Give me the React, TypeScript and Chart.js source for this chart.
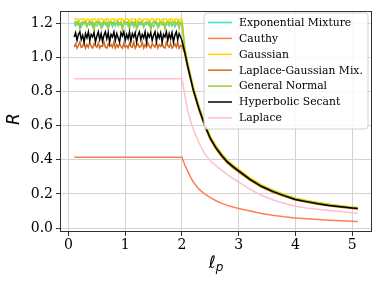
import React, { useEffect, useRef } from 'react';
import { Chart, registerables } from 'chart.js';

Chart.register(...registerables);

// x grid for the noisy series (flat part 0.100..1.975, then the decay part)
const xNoisy = [
  0.100, 0.125, 0.150, 0.175, 0.200, 0.225, 0.250, 0.275, 0.300, 0.325, 0.350, 0.375, 0.400, 0.425, 0.450, 0.475, 0.500, 0.525, 0.550,
  0.575, 0.600, 0.625, 0.650, 0.675, 0.700, 0.725, 0.750, 0.775, 0.800, 0.825, 0.850, 0.875, 0.900, 0.925, 0.950, 0.975, 1.000, 1.025,
  1.050, 1.075, 1.100, 1.125, 1.150, 1.175, 1.200, 1.225, 1.250, 1.275, 1.300, 1.325, 1.350, 1.375, 1.400, 1.425, 1.450, 1.475, 1.500,
  1.525, 1.550, 1.575, 1.600, 1.625, 1.650, 1.675, 1.700, 1.725, 1.750, 1.775, 1.800, 1.825, 1.850, 1.875, 1.900, 1.925, 1.950, 1.975,
  2.00, 2.05, 2.10, 2.15, 2.20, 2.30, 2.40, 2.50, 2.60, 2.70, 2.80, 2.90, 3.00, 3.20, 3.40, 3.60, 3.80, 4.00,
  4.20, 4.40, 4.60, 4.80, 5.00, 5.10,
];
// x grid for the smooth series
const xSmooth = [
  0.10, 2.00, 2.05, 2.10, 2.15, 2.20, 2.30, 2.40, 2.50, 2.60, 2.70, 2.80, 2.90, 3.00, 3.20, 3.40, 3.60, 3.80, 4.00,
  4.20, 4.40, 4.60, 4.80, 5.00, 5.10,
];

const expMixture = [
  1.20, 1.185, 1.205, 1.19, 1.20, 1.18, 1.20, 1.195, 1.205, 1.185, 1.20, 1.19, 1.205, 1.18, 1.20, 1.195, 1.185, 1.205, 1.19,
  1.20, 1.18, 1.205, 1.195, 1.185, 1.20, 1.19, 1.205, 1.18, 1.20, 1.195, 1.205, 1.185, 1.20, 1.19, 1.18, 1.205, 1.195, 1.20,
  1.185, 1.205, 1.19, 1.20, 1.18, 1.205, 1.195, 1.185, 1.20, 1.19, 1.205, 1.18, 1.20, 1.195, 1.205, 1.185, 1.20, 1.19, 1.18,
  1.205, 1.195, 1.20, 1.185, 1.205, 1.19, 1.20, 1.18, 1.205, 1.195, 1.185, 1.20, 1.19, 1.205, 1.18, 1.20, 1.195, 1.205, 1.20,
  1.20, 1.045, 0.96, 0.89, 0.82, 0.707, 0.612, 0.532, 0.477, 0.432, 0.395, 0.366, 0.341, 0.291, 0.251, 0.221, 0.196, 0.173,
  0.160, 0.148, 0.138, 0.130, 0.122, 0.119,
];
const cauthy = [
  0.415, 0.415, 0.37, 0.335, 0.30, 0.27, 0.228, 0.20, 0.178, 0.16, 0.145, 0.133, 0.123, 0.115, 0.10, 0.086, 0.075, 0.066,
  0.059, 0.054, 0.05, 0.046, 0.043, 0.04, 0.038,
];
const gaussian = [
  1.225, 1.225, 1.225, 1.205, 1.225, 1.225, 1.225, 1.225, 1.195, 1.225, 1.225, 1.21, 1.225, 1.225, 1.225, 1.225, 1.20, 1.225, 1.225,
  1.225, 1.225, 1.21, 1.225, 1.225, 1.225, 1.195, 1.225, 1.225, 1.225, 1.225, 1.205, 1.225, 1.225, 1.225, 1.225, 1.20, 1.225, 1.225,
  1.225, 1.21, 1.225, 1.225, 1.225, 1.225, 1.195, 1.225, 1.225, 1.225, 1.205, 1.225, 1.225, 1.225, 1.225, 1.20, 1.225, 1.225, 1.225,
  1.21, 1.225, 1.225, 1.225, 1.195, 1.225, 1.225, 1.225, 1.225, 1.205, 1.225, 1.225, 1.225, 1.20, 1.225, 1.225, 1.225, 1.21, 1.225,
  1.225, 1.06, 0.975, 0.90, 0.83, 0.715, 0.62, 0.54, 0.483, 0.437, 0.399, 0.37, 0.345, 0.295, 0.255, 0.224, 0.198, 0.176,
  0.162, 0.150, 0.140, 0.131, 0.124, 0.121,
];
const laplaceGaussMix = [
  1.06, 1.08, 1.055, 1.07, 1.09, 1.06, 1.065, 1.085, 1.055, 1.075, 1.06, 1.09, 1.065, 1.055, 1.08, 1.07, 1.06, 1.085, 1.055,
  1.07, 1.065, 1.09, 1.06, 1.055, 1.08, 1.065, 1.075, 1.06, 1.09, 1.055, 1.075, 1.06, 1.08, 1.065, 1.055, 1.085, 1.06, 1.07,
  1.055, 1.085, 1.065, 1.06, 1.09, 1.055, 1.07, 1.08, 1.06, 1.065, 1.09, 1.055, 1.075, 1.06, 1.085, 1.065, 1.055, 1.08, 1.07,
  1.06, 1.09, 1.055, 1.075, 1.065, 1.08, 1.06, 1.055, 1.09, 1.07, 1.06, 1.085, 1.055, 1.065, 1.08, 1.06, 1.09, 1.055, 1.07,
  1.07, 1.02, 0.94, 0.87, 0.80, 0.69, 0.596, 0.518, 0.463, 0.418, 0.381, 0.353, 0.328, 0.279, 0.24, 0.21, 0.186, 0.164,
  0.151, 0.139, 0.13, 0.122, 0.115, 0.112,
];
const generalNormal = [
  1.205, 1.21, 1.195, 1.21, 1.165, 1.205, 1.21, 1.20, 1.21, 1.18, 1.205, 1.21, 1.195, 1.21, 1.16, 1.205, 1.21, 1.20, 1.21,
  1.175, 1.205, 1.21, 1.195, 1.21, 1.165, 1.205, 1.21, 1.20, 1.21, 1.185, 1.205, 1.21, 1.195, 1.21, 1.16, 1.205, 1.21, 1.20,
  1.21, 1.17, 1.205, 1.21, 1.195, 1.21, 1.165, 1.205, 1.21, 1.20, 1.21, 1.18, 1.205, 1.21, 1.195, 1.21, 1.16, 1.205, 1.21,
  1.20, 1.21, 1.175, 1.205, 1.21, 1.195, 1.21, 1.165, 1.205, 1.21, 1.20, 1.21, 1.185, 1.205, 1.21, 1.195, 1.21, 1.17, 1.205,
  1.205, 1.05, 0.965, 0.893, 0.823, 0.71, 0.614, 0.534, 0.478, 0.433, 0.395, 0.366, 0.34, 0.289, 0.249, 0.219, 0.194, 0.172,
  0.159, 0.147, 0.137, 0.128, 0.121, 0.118,
];
const hyperbolicSecant = [
  1.12, 1.145, 1.10, 1.135, 1.15, 1.105, 1.13, 1.09, 1.14, 1.115, 1.15, 1.10, 1.135, 1.12, 1.145, 1.09, 1.125, 1.15, 1.105,
  1.14, 1.095, 1.13, 1.15, 1.11, 1.145, 1.09, 1.135, 1.12, 1.15, 1.10, 1.14, 1.115, 1.09, 1.145, 1.125, 1.15, 1.10, 1.135,
  1.11, 1.15, 1.095, 1.14, 1.12, 1.145, 1.09, 1.13, 1.15, 1.105, 1.135, 1.115, 1.15, 1.09, 1.14, 1.12, 1.145, 1.10, 1.13,
  1.15, 1.095, 1.14, 1.115, 1.145, 1.09, 1.135, 1.12, 1.15, 1.10, 1.14, 1.11, 1.145, 1.09, 1.13, 1.15, 1.105, 1.14, 1.12,
  1.10, 1.03, 0.95, 0.88, 0.81, 0.70, 0.605, 0.525, 0.47, 0.425, 0.388, 0.36, 0.335, 0.285, 0.245, 0.215, 0.19, 0.168,
  0.155, 0.143, 0.133, 0.125, 0.118, 0.115,
];
const laplace = [
  0.875, 0.875, 0.78, 0.69, 0.63, 0.58, 0.50, 0.435, 0.395, 0.365, 0.338, 0.313, 0.29, 0.27, 0.228, 0.192, 0.166, 0.146,
  0.128, 0.118, 0.11, 0.103, 0.097, 0.09, 0.087,
];

const xTicks = [0, 1, 2, 3, 4, 5];
const yTicks = [0.0, 0.2, 0.4, 0.6, 0.8, 1.0, 1.2];

const seriesLabels = [
  'Exponential Mixture', 'Cauthy', 'Gaussian', 'Laplace-Gaussian Mix.', 'General Normal', 'Hyperbolic Secant', 'Laplace',
];
const seriesColors = ['#40E0D0', '#FF7F50', '#FFD700', '#D2691E', '#9ACD32', '#000000', '#FFC0CB'];

export default function App() {
  const ref = useRef<HTMLCanvasElement>(null);

  useEffect(() => {
    document.body.style.margin = '0';
    const xsList = [xNoisy, xSmooth, xNoisy, xNoisy, xNoisy, xNoisy, xSmooth];
    const ysList = [expMixture, cauthy, gaussian, laplaceGaussMix, generalNormal, hyperbolicSecant, laplace];
    const n = seriesLabels.length;

    const decor = {
      id: 'decor',
      afterDraw(chart: any) {
        const ctx = chart.ctx as CanvasRenderingContext2D;
        const a = chart.chartArea;
        ctx.save();
        // frame
        ctx.strokeStyle = '#333';
        ctx.lineWidth = 1;
        ctx.strokeRect(Math.round(a.left) + 0.5, Math.round(a.top) + 0.5, Math.round(a.right - a.left) - 1, Math.round(a.bottom - a.top) - 1);

        // legend
        const bx = 204, by = 13, bw = 164, bh = 116, r = 3;
        ctx.beginPath();
        ctx.moveTo(bx + r, by);
        ctx.arcTo(bx + bw, by, bx + bw, by + bh, r);
        ctx.arcTo(bx + bw, by + bh, bx, by + bh, r);
        ctx.arcTo(bx, by + bh, bx, by, r);
        ctx.arcTo(bx, by, bx + bw, by, r);
        ctx.closePath();
        ctx.fillStyle = 'rgba(255,255,255,0.85)';
        ctx.fill();
        ctx.strokeStyle = '#d0d0d0';
        ctx.lineWidth = 1;
        ctx.stroke();
        ctx.font = '10.8px "DejaVu Serif"';
        ctx.textBaseline = 'middle';
        ctx.textAlign = 'left';
        for (let i = 0; i < n; i++) {
          const cy = 22.5 + i * 15.9;
          ctx.strokeStyle = seriesColors[i];
          ctx.lineWidth = 1.5;
          ctx.beginPath();
          ctx.moveTo(208, cy);
          ctx.lineTo(232, cy);
          ctx.stroke();
          ctx.fillStyle = '#000';
          ctx.fillText(seriesLabels[i], 239, cy + 0.5);
        }

        // axis titles
        ctx.fillStyle = '#000';
        ctx.save();
        ctx.translate(15, 119);
        ctx.rotate(-Math.PI / 2);
        ctx.font = 'italic 17px "DejaVu Sans"';
        ctx.textAlign = 'center';
        ctx.textBaseline = 'middle';
        ctx.fillText('R', 0, 0);
        ctx.restore();

        ctx.textBaseline = 'alphabetic';
        ctx.textAlign = 'left';
        ctx.font = 'italic 17px "DejaVu Sans"';
        const w1 = ctx.measureText('ℓ').width;
        ctx.font = 'italic 12px "DejaVu Sans"';
        const w2 = ctx.measureText('p').width;
        const cx = (a.left + a.right) / 2;
        const sx = cx - (w1 + w2) / 2;
        ctx.font = 'italic 17px "DejaVu Sans"';
        ctx.fillText('ℓ', sx, 268);
        ctx.font = 'italic 12px "DejaVu Sans"';
        ctx.fillText('p', sx + w1, 271);
        ctx.restore();
      },
    };

    const tickFont = { family: '"DejaVu Serif"', size: 14 };
    const chart = new Chart(ref.current as HTMLCanvasElement, {
      type: 'line',
      data: {
        datasets: seriesLabels.map((label, i) => ({
          label,
          data: xsList[i].map((x, j) => ({ x, y: ysList[i][j] })),
          borderColor: seriesColors[i],
          backgroundColor: seriesColors[i],
          borderWidth: 1.5,
          pointRadius: 0,
          tension: 0,
          fill: false,
          order: n - 1 - i,
        })),
      },
      options: {
        responsive: false,
        animation: false,
        devicePixelRatio: 1,
        layout: { padding: { top: 10, right: 9, left: 0, bottom: 0 } },
        plugins: { legend: { display: false }, tooltip: { enabled: false } },
        scales: {
          x: {
            type: 'linear',
            min: -0.15,
            max: 5.35,
            afterFit: (s: any) => { s.height = 54; },
            afterBuildTicks: (s: any) => { s.ticks = xTicks.map((v) => ({ value: v })); },
            ticks: { font: tickFont, color: '#000', padding: 1, maxRotation: 0, callback: (v: any) => String(v) },
            grid: { color: '#d3d3d3', lineWidth: 1, tickColor: '#333', tickLength: 4 },
            border: { display: false },
          },
          y: {
            type: 'linear',
            min: -0.023,
            max: 1.27,
            afterFit: (s: any) => { s.width = 60; },
            afterBuildTicks: (s: any) => { s.ticks = yTicks.map((v) => ({ value: v })); },
            ticks: { font: tickFont, color: '#000', padding: 3, callback: (v: any) => Number(v).toFixed(1) },
            grid: { color: '#d3d3d3', lineWidth: 1, tickColor: '#333', tickLength: 4 },
            border: { display: false },
          },
        },
      },
      plugins: [decor],
    });
    return () => chart.destroy();
  }, []);

  return <canvas ref={ref} width={381} height={286} style={{ display: 'block', width: 381, height: 286 }} />;
}
